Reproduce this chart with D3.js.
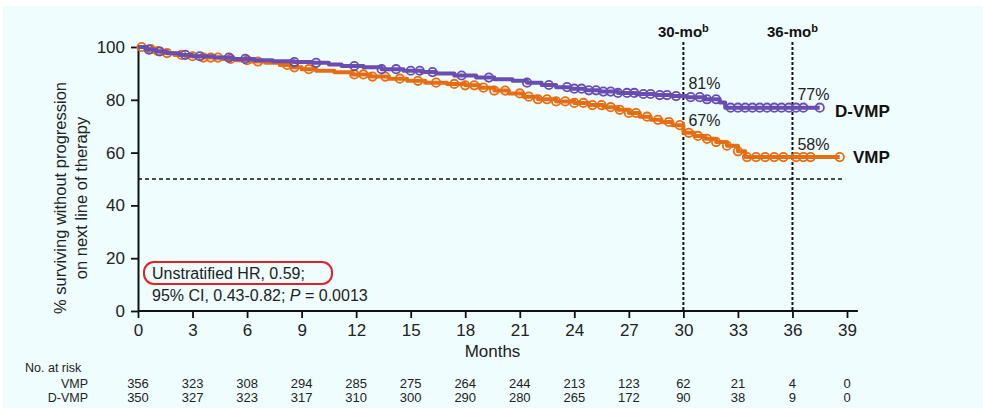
<!DOCTYPE html>
<html><head><meta charset="utf-8">
<script src="https://cdn.jsdelivr.net/npm/d3@7"></script>
<style>body{margin:0;background:#fff;}svg{display:block;font-family:"Liberation Sans",Arial,sans-serif;}</style>
</head><body><svg id="c" width="983" height="408"></svg>
<script>
// ---- data ----
const xTicks = [0,3,6,9,12,15,18,21,24,27,30,33,36,39];
const yTicks = [0,20,40,60,80,100];
const dvmpTimes = [0,0.5,1.0,1.6,2.3,3.0,4.2,5.2,6.4,7.4,8.6,9.6,10.5,11.2,12.4,13.4,14.6,15.6,16.4,17.4,18.6,19.6,20.6,21.4,22.2,23.0,23.8,24.6,25.4,26.4,27.4,28.4,29.4,30.2,31.2,32.0,32.3,37.5];
const dvmpSurv  = [100,99,98.3,97.6,97,96.5,96,95.5,95,94.6,94.3,94,93.4,92.8,92.3,91.6,91,90.5,90,89.2,88.4,87.8,87.2,86.5,85.6,84.8,84.2,83.6,83.1,82.6,82.2,81.8,81.4,81,80.2,79,77,77];
const vmpTimes  = [0,0.4,0.9,1.4,2.0,2.7,3.6,4.6,5.4,6.2,7.0,7.8,8.4,9.0,9.8,10.8,11.8,12.8,13.8,14.8,15.8,17.0,18.0,18.8,19.6,20.4,21.2,22.0,23.0,24.0,24.8,25.6,26.4,27.0,27.6,28.2,28.8,29.4,30.0,30.6,31.2,31.8,32.4,33.0,33.4,38.6];
const vmpSurv   = [100,99.2,98.4,97.7,97,96.5,96,95.5,95,94.5,94,93.2,92.3,91.6,91,90.4,89.6,88.8,88,87.2,86.5,86,85.5,84.6,83.5,82.4,81.2,80.2,79.4,78.8,78,77.2,76.2,75,73.6,72.4,71.6,70.4,67.5,66.3,65.2,64,62.6,60.5,58.3,58.3];
const dvmpCensor = [0.6,1.2,2.6,3.4,5.0,5.9,8.6,9.8,11.9,13.4,14.2,15.0,15.5,16.2,17.8,19.3,21.4,22.6,23.6,24.0,24.4,24.8,25.2,25.6,26.0,26.4,26.9,27.3,27.8,28.2,28.7,29.1,29.6,30.4,30.9,31.3,31.8,32.6,33.0,33.4,33.8,34.2,34.6,35.0,35.4,35.8,36.2,36.6,37.5];
const vmpCensor  = [0.2,0.7,1.1,1.6,2.4,3.0,3.6,4.0,4.4,5.1,6.0,6.6,8.2,8.6,9.4,11.9,12.4,12.9,13.6,14.4,15.4,16.4,17.4,18.0,18.5,19.0,19.6,20.2,21.0,21.5,22.0,22.5,23.0,23.5,24.0,24.5,25.0,25.5,26.0,26.5,27.0,27.4,28.0,28.6,29.2,29.8,30.3,30.8,31.3,31.8,32.4,33.0,33.5,34.0,34.5,35.0,35.5,36.2,36.6,37.0,38.6];
const riskVMP  = [356,323,308,294,285,275,264,244,213,123,62,21,4,0];
const riskDVMP = [350,327,323,317,310,300,290,280,265,172,90,38,9,0];
const landmarks = [30,36];
const landmarkLabels = ["30-mo","36-mo"];
const pctLabels = [{t:30,v:81,txt:"81%"},{t:30,v:67,txt:"67%"},{t:36,v:77,txt:"77%"},{t:36,v:58,txt:"58%"}];
const purple = "#6a4db0", orange = "#e66e12";

// ---- chart ----
const svg = d3.select("#c");
svg.append("rect").attr("x",3).attr("y",6).attr("width",980).attr("height",402).attr("fill","#effdfe");
const x = d3.scaleLinear().domain([0,39]).range([138,847]);
const y = d3.scaleLinear().domain([0,100]).range([311,47]);

// 50% reference line
svg.append("line").attr("x1",x(0)).attr("x2",x(38.9)).attr("y1",y(50)).attr("y2",y(50))
  .attr("stroke","#111").attr("stroke-width",1.3).attr("stroke-dasharray","4,3");

// landmark lines
landmarks.forEach((m,i)=>{
  svg.append("line").attr("x1",x(m)).attr("x2",x(m)).attr("y1",42).attr("y2",y(0))
    .attr("stroke","#111").attr("stroke-width",2).attr("stroke-dasharray","3,2");
  const t = svg.append("text").attr("x",x(m)).attr("y",37).attr("text-anchor","middle")
    .attr("font-size",15).attr("font-weight","bold").attr("fill","#111");
  t.append("tspan").text(landmarkLabels[i]);
  t.append("tspan").attr("dy",-5).attr("font-size",11).text("b");
});

// axes
const xAxis = svg.append("g").attr("transform",`translate(0,${y(0)})`)
  .call(d3.axisBottom(x).tickValues(xTicks).tickSize(7).tickSizeOuter(0).tickPadding(4));
xAxis.select(".domain").remove();
xAxis.append("line").attr("x1",x(0)).attr("x2",x(39.6)).attr("stroke","#111").attr("stroke-width",1.8);
const yAxis = svg.append("g").attr("transform",`translate(${x(0)},0)`)
  .call(d3.axisLeft(y).tickValues(yTicks).tickSize(7).tickSizeOuter(0).tickPadding(6));
[xAxis,yAxis].forEach(g=>{
  g.selectAll(".tick line").attr("stroke","#111").attr("stroke-width",1.8);
  g.selectAll(".tick text").attr("font-size",17).attr("fill","#222").attr("font-family","Liberation Sans, Arial, sans-serif");
  g.select(".domain").attr("stroke","#111").attr("stroke-width",2);
});
xAxis.selectAll(".tick text").attr("dy","0.85em");

// curves
function drawKM(times, surv, censor, color){
  const pts = times.map((t,i)=>[t,surv[i]]);
  const line = d3.line().x(d=>x(d[0])).y(d=>y(d[1])).curve(d3.curveStepAfter);
  svg.append("path").attr("d",line(pts)).attr("fill","none").attr("stroke",color)
    .attr("stroke-width",4).attr("stroke-linejoin","round");
  const sAt = t => { let v=surv[0]; for(let i=0;i<times.length;i++){ if(times[i]<=t) v=surv[i]; } return v; };
  svg.append("g").selectAll("circle").data(censor).join("circle")
    .attr("cx",d=>x(d)).attr("cy",d=>y(sAt(d))).attr("r",4.2)
    .attr("fill","none").attr("stroke",color).attr("stroke-width",1.8);
}
drawKM(vmpTimes, vmpSurv, vmpCensor, orange);
drawKM(dvmpTimes, dvmpSurv, dvmpCensor, purple);

// percent labels
pctLabels.forEach(p=>{
  svg.append("text").attr("x",x(p.t)+5).attr("y",y(p.v)-8).attr("font-size",16).attr("fill","#222").text(p.txt);
});
svg.append("text").attr("x",835).attr("y",117).attr("font-size",17).attr("font-weight","bold").attr("fill","#111").text("D-VMP");
svg.append("text").attr("x",853).attr("y",163).attr("font-size",17).attr("font-weight","bold").attr("fill","#111").text("VMP");

// HR box
svg.append("rect").attr("x",144).attr("y",262).attr("width",188).attr("height",22).attr("rx",10)
  .attr("fill","none").attr("stroke","#e0202a").attr("stroke-width",2);
svg.append("text").attr("x",152).attr("y",279).attr("font-size",16).attr("fill","#222").text("Unstratified HR, 0.59;");
const t2 = svg.append("text").attr("x",152).attr("y",301).attr("font-size",16).attr("fill","#222");
t2.append("tspan").text("95% CI, 0.43-0.82; ");
t2.append("tspan").attr("font-style","italic").text("P");
t2.append("tspan").text(" = 0.0013");

// axis titles
svg.append("text").attr("x",x(19.5)).attr("y",357).attr("text-anchor","middle").attr("font-size",17).attr("fill","#222").text("Months");
const yl = svg.append("g").attr("transform","translate(0,198) rotate(-90)");
yl.append("text").attr("x",0).attr("y",66).attr("text-anchor","middle").attr("font-size",16.5).attr("fill","#222").text("% surviving without progression");
yl.append("text").attr("x",0).attr("y",87).attr("text-anchor","middle").attr("font-size",16.5).attr("fill","#222").text("on next line of therapy");

// risk table
svg.append("text").attr("x",25).attr("y",372).attr("font-size",12.5).attr("fill","#222").text("No. at risk");
svg.append("text").attr("x",88).attr("y",388).attr("text-anchor","end").attr("font-size",12.5).attr("fill","#222").text("VMP");
svg.append("text").attr("x",88).attr("y",402).attr("text-anchor","end").attr("font-size",12.5).attr("fill","#222").text("D-VMP");
svg.append("g").selectAll("text").data(riskVMP).join("text")
  .attr("x",(d,i)=>x(xTicks[i])).attr("y",388).attr("text-anchor","middle").attr("font-size",13).attr("fill","#222").text(d=>d);
svg.append("g").selectAll("text").data(riskDVMP).join("text")
  .attr("x",(d,i)=>x(xTicks[i])).attr("y",402).attr("text-anchor","middle").attr("font-size",13).attr("fill","#222").text(d=>d);
</script></body></html>
